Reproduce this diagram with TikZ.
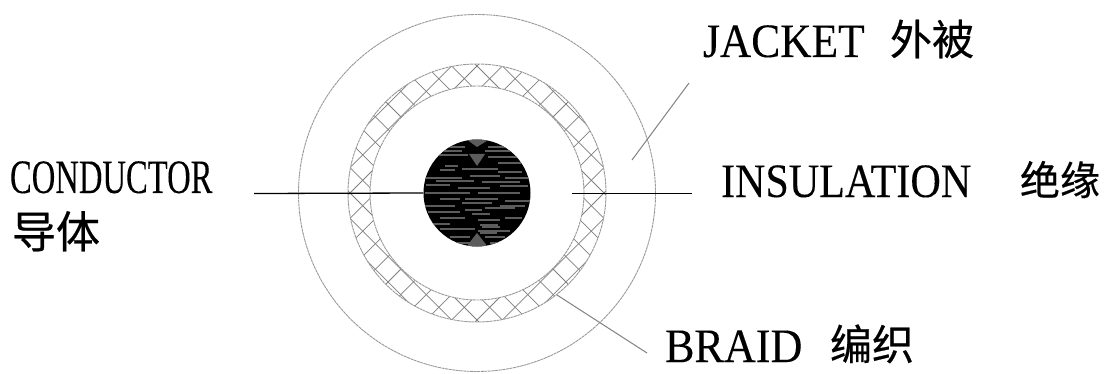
\documentclass[tikz,border=0pt]{standalone}
\usepackage{graphicx}
\usepackage{fontspec}
\usetikzlibrary{calc}
\setmainfont[FakeBold=0.15]{Liberation Serif}
\newfontfamily\cjk[FakeBold=0.5]{Noto Sans CJK SC}
\definecolor{ringgray}{gray}{0.6}
\definecolor{hatchgray}{gray}{0.5}
\definecolor{streak}{gray}{0.36}
\tikzset{
  ringline/.style={draw=ringgray,line width=0.9pt,dash pattern=on 3pt off 0.6pt},
  hatchline/.style={draw=hatchgray,line width=0.75pt},
  leaderthin/.style={draw=ringgray!85!black,line width=1pt},
  leaderdark/.style={draw=black,line width=1.3pt},
  lab/.style={anchor=base west,inner sep=0pt,outer sep=0pt,text=black},
}
\begin{document}
\begin{tikzpicture}[x=1pt,y=-1pt]
\useasboundingbox (0,0) rectangle (1107,374);
\fill[white] (0,0) rectangle (1107,374);
\coordinate (c) at (477,193);
% jacket
\draw[ringline] (c) circle[radius=178.5];
% braid band
\begin{scope}[even odd rule]
  \clip (c) circle[radius=129] (c) circle[radius=107];
  \foreach \k in {-14,...,14} {
    \draw[hatchline] ($(c)+(\k*25.4-200,-200)$) -- ($(c)+(\k*25.4+200,200)$);
    \draw[hatchline] ($(c)+(\k*25.4+200,-200)$) -- ($(c)+(\k*25.4-200,200)$);
  }
\end{scope}
\draw[ringline] (c) circle[radius=129];
\draw[ringline] (c) circle[radius=107];
% core
\node[circle,fill=black,minimum size=107pt,inner sep=0pt] (core) at (c) {};
\begin{scope}
  \clip (c) circle[radius=53.5];
  \fill[streak] (469,154) -- (485,154) -- (477,166) -- cycle;
  \fill[streak] (466,139) -- (490,139) -- (477,147) -- cycle;
  \fill[streak] (466,247) -- (488,247) -- (477,233) -- cycle;
  \foreach \xa/\xb/\ya in {
    445/465/147, 488/512/147, 436/462/151, 485/518/151, 430/468/155, 488/520/157,
    445/458/166, 498/522/163, 440/455/170, 498/522/172, 462/498/169,
    425/462/178, 470/500/176, 505/530/178, 426/450/185, 458/490/188, 500/528/186,
    425/470/193, 478/520/193, 440/460/199, 465/498/199, 505/530/201, 425/455/206,
    462/492/203, 500/525/206, 428/460/212, 465/482/210, 485/515/208, 440/465/218,
    478/500/220, 505/522/218, 430/450/224, 480/498/225, 440/475/229, 478/510/231,
    450/470/237, 485/505/237, 455/480/243, 490/500/243, 472/490/214, 436/474/181, 482/520/182,
    480/497/233, 482/500/227}{
    \draw[streak,line width=1.1pt] (\xa,\ya) -- (\xb,\ya);
  }
\end{scope}
% leaders
\coordinate (condstart) at (254,193.5);
\coordinate (insstart) at (572,193.5);
\coordinate (insend) at (692,193.5);
\coordinate (jacka) at (632,160);
\coordinate (jackb) at (689,83);
\coordinate (braida) at (557,295);
\coordinate (braidb) at (647,353);
\draw[leaderdark] (condstart) -- (core.west);
\draw[leaderdark] (insstart) -- (insend);
\draw[leaderthin] (jacka) -- (jackb);
\draw[leaderthin] (braida) -- (braidb);
% labels
\node[lab] (l1) at (10,193) {\scalebox{0.68}[1]{\fontsize{48}{48}\selectfont CONDUCTOR}};
\node[lab] (l2) at (12,248) {\fontsize{44}{44}\selectfont\cjk 导体};
\node[lab] (l3) at (703,57) {\scalebox{0.905}[1]{\fontsize{48}{48}\selectfont JACKET}};
\node[lab] (l4) at (890,55) {\fontsize{42}{42}\selectfont\cjk 外被};
\node[lab] (l5) at (721,197) {\scalebox{0.877}[1]{\fontsize{48}{48}\selectfont INSULATION}};
\node[lab] (l6) at (1020,195) {\fontsize{40}{40}\selectfont\cjk 绝缘};
\node[lab] (l7) at (665,362) {\scalebox{0.92}[1]{\fontsize{48}{48}\selectfont BRAID}};
\node[lab] (l8) at (830,360) {\fontsize{42}{42}\selectfont\cjk 编织};
\end{tikzpicture}
\end{document}
